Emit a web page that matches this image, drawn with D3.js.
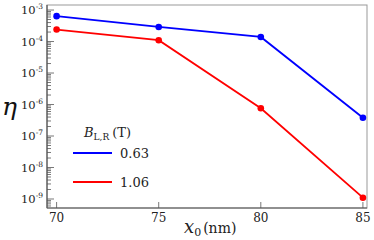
<!DOCTYPE html>
<html>
<head>
<meta charset="utf-8">
<script src="https://cdn.jsdelivr.net/npm/d3@7"></script>
<style>
  body { margin: 0; background: #fff; }
  text { font-family: "DejaVu Serif", "Liberation Serif", serif; }
</style>
</head>
<body>
<svg id="chart" width="374" height="240"></svg>
<script>
// data
var x0 = [70, 75, 80, 85];
var eta063 = [6.4e-4, 2.9e-4, 1.4e-4, 3.8e-7];
var eta106 = [2.4e-4, 1.1e-4, 7.6e-7, 1.1e-9];
var seriesNames = ["0.63", "1.06"];
var seriesColors = ["#0000ff", "#ff0000"];
var xTicks = [70, 75, 80, 85];
var yExps = [-3, -4, -5, -6, -7, -8, -9];

var svg = d3.select("#chart");
var pLeft = 47, pRight = 367, pTop = 5, pBottom = 208;

var x = d3.scaleLinear().domain([69.53, 85.2]).range([pLeft, pRight]);
var y = d3.scaleLog().domain([Math.pow(10, -9.286), Math.pow(10, -2.84)]).range([pBottom, pTop]);

// frame
svg.append("rect")
  .attr("x", pLeft).attr("y", pTop)
  .attr("width", pRight - pLeft).attr("height", pBottom - pTop)
  .attr("fill", "none").attr("stroke", "#999").attr("stroke-width", 1);

// y ticks, inward
var minor = [];
for (var e = -10; e <= -2; e++) {
  for (var m = 2; m <= 9; m++) {
    var v = m * Math.pow(10, e);
    if (v > y.domain()[0] && v < y.domain()[1]) minor.push(v);
  }
}
var yAxis = svg.append("g");
yAxis.selectAll("line.minor").data(minor).enter().append("line")
  .attr("x1", pLeft).attr("x2", pLeft + 4)
  .attr("y1", function(d){ return y(d); }).attr("y2", function(d){ return y(d); })
  .attr("stroke", "#555").attr("stroke-width", 0.8);
yAxis.selectAll("line.major").data(yExps).enter().append("line")
  .attr("x1", pLeft).attr("x2", pLeft + 7)
  .attr("y1", function(d){ return y(Math.pow(10, d)); }).attr("y2", function(d){ return y(Math.pow(10, d)); })
  .attr("stroke", "#555").attr("stroke-width", 0.8);

var yl = yAxis.selectAll("text").data(yExps).enter().append("text")
  .attr("x", 43)
  .attr("y", function(d){ return y(Math.pow(10, d)) + 4; })
  .attr("text-anchor", "end")
  .attr("font-size", 11.5)
  .attr("fill", "#222");
yl.append("tspan").text("10");
yl.append("tspan").attr("dy", -5).attr("font-size", 7.5).text(function(d){ return "-" + (-d); });

// x ticks, inward
var xAxis = svg.append("g");
xAxis.selectAll("line").data(xTicks).enter().append("line")
  .attr("x1", function(d){ return x(d); }).attr("x2", function(d){ return x(d); })
  .attr("y1", pBottom).attr("y2", pBottom - 6)
  .attr("stroke", "#555").attr("stroke-width", 0.8);
xAxis.selectAll("text").data(xTicks).enter().append("text")
  .attr("x", function(d){ return x(d); })
  .attr("y", 222)
  .attr("text-anchor", "middle")
  .attr("font-size", 12)
  .attr("fill", "#222")
  .text(function(d){ return d; });

// axis lines
svg.append("line").attr("x1", pLeft).attr("x2", pLeft).attr("y1", pTop).attr("y2", pBottom)
  .attr("stroke", "#555").attr("stroke-width", 1.2);
svg.append("line").attr("x1", pLeft).attr("x2", pRight).attr("y1", pBottom).attr("y2", pBottom)
  .attr("stroke", "#555").attr("stroke-width", 1.2);

// series
var series = [eta063, eta106];
var line = d3.line()
  .x(function(d, i){ return x(x0[i]); })
  .y(function(d){ return y(d); });

series.forEach(function(s, k) {
  svg.append("path")
    .datum(s)
    .attr("d", line)
    .attr("fill", "none")
    .attr("stroke", seriesColors[k])
    .attr("stroke-width", 1.8);
  svg.selectAll("circle.s" + k).data(s).enter().append("circle")
    .attr("cx", function(d, i){ return x(x0[i]); })
    .attr("cy", function(d){ return y(d); })
    .attr("r", 3.3)
    .attr("fill", seriesColors[k]);
});

// legend
var lt = svg.append("text").attr("x", 84).attr("y", 137).attr("font-size", 13).attr("fill", "#222");
lt.append("tspan").attr("font-style", "italic").text("B");
lt.append("tspan").attr("dy", 3).attr("font-size", 9).text("L,R");
lt.append("tspan").attr("dy", -3).attr("dx", 3).text("(T)");

var leg = svg.selectAll("g.leg").data(seriesNames).enter().append("g")
  .attr("transform", function(d, i){ return "translate(0," + (153 + i * 29) + ")"; });
leg.append("line")
  .attr("x1", 73).attr("x2", 112).attr("y1", 0).attr("y2", 0)
  .attr("stroke", function(d, i){ return seriesColors[i]; })
  .attr("stroke-width", 1.8);
leg.append("text")
  .attr("x", 120).attr("y", 5)
  .attr("font-size", 13).attr("fill", "#222")
  .text(function(d){ return d; });

// axis titles
svg.append("text")
  .attr("x", 2).attr("y", 115)
  .attr("font-size", 25).attr("font-style", "italic").attr("fill", "#111")
  .text("η");

var xt = svg.append("text").attr("x", 184).attr("y", 233).attr("font-size", 14).attr("fill", "#222");
xt.append("tspan").attr("font-style", "italic").attr("font-size", 18).text("x");
xt.append("tspan").attr("dy", 3).attr("font-size", 11).text("0");
xt.append("tspan").attr("dy", -3).attr("dx", 2).text("(nm)");
</script>
</body>
</html>
